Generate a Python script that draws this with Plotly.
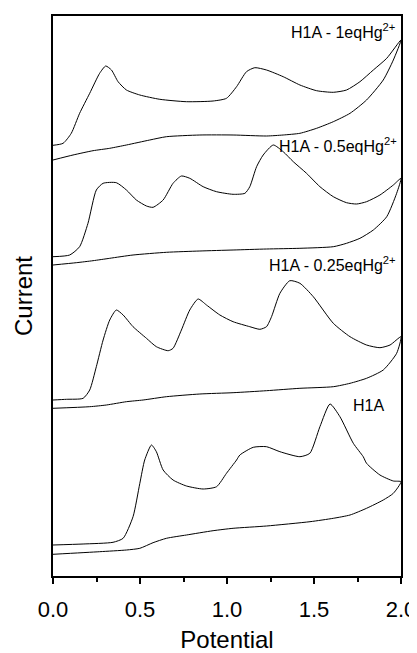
import plotly.graph_objects as go

# ---- data (Potential / V, Current / arb. units) ----
# H1A - 1eqHg2+  (forward scan then reverse scan)
p_1eq = [0.0, 0.058, 0.105, 0.153, 0.211, 0.268, 0.303, 0.336, 0.374, 0.422, 0.499, 0.614, 0.767, 0.920,
         0.997, 1.055, 1.112, 1.160, 1.227, 1.323, 1.419, 1.515, 1.611, 1.687, 1.764, 1.841, 1.918, 2.0,
         1.956, 1.898, 1.802, 1.707, 1.611, 1.515, 1.419, 1.323, 1.227, 1.035, 0.844, 0.652, 0.556, 0.422,
         0.326, 0.230, 0.115, 0.0]
c_1eq = [430.7, 432.7, 442.7, 462.7, 482.7, 502.7, 510.0, 506.0, 494.3, 486.0, 481.0, 476.7, 474.3, 475.0,
         477.7, 489.3, 504.3, 508.3, 506.0, 499.3, 491.0, 485.3, 483.7, 486.0, 494.3, 506.0, 517.7, 536.0,
         516.0, 496.0, 476.0, 462.7, 454.3, 447.7, 442.7, 441.0, 440.0, 441.0, 441.0, 439.3, 436.0, 431.0,
         427.7, 425.3, 421.0, 416.0]

# H1A - 0.5eqHg2+
p_05eq = [0.0, 0.096, 0.153, 0.201, 0.249, 0.288, 0.364, 0.422, 0.479, 0.537, 0.575, 0.633, 0.690, 0.738,
          0.786, 0.863, 0.940, 1.035, 1.103, 1.131, 1.170, 1.208, 1.266, 1.323, 1.381, 1.457, 1.534, 1.611,
          1.687, 1.745, 1.802, 1.879, 1.956, 2.0,
          1.975, 1.918, 1.841, 1.764, 1.687, 1.611, 1.419, 1.227, 1.035, 0.844, 0.652, 0.460, 0.326, 0.230,
          0.134, 0.0]
c_05eq = [319.3, 321.0, 329.3, 352.7, 386.0, 392.7, 393.3, 386.0, 376.0, 370.0, 368.7, 376.0, 392.7, 400.0,
          397.7, 389.3, 384.3, 381.7, 382.7, 389.3, 409.3, 421.0, 431.0, 424.3, 414.3, 402.7, 389.3, 379.3,
          373.3, 372.0, 374.3, 381.0, 391.0, 397.7,
          382.7, 359.3, 346.0, 337.7, 332.7, 329.3, 327.7, 327.0, 326.0, 325.0, 323.7, 321.0, 317.7, 315.3,
          313.3, 311.0]

# H1A - 0.25eqHg2+
p_025eq = [0.0, 0.077, 0.173, 0.211, 0.249, 0.288, 0.326, 0.364, 0.403, 0.460, 0.537, 0.594, 0.662, 0.690,
           0.738, 0.786, 0.834, 0.882, 0.959, 1.035, 1.131, 1.189, 1.227, 1.256, 1.304, 1.361, 1.419, 1.496,
           1.611, 1.707, 1.802, 1.879, 1.937, 2.0,
           1.975, 1.898, 1.802, 1.707, 1.611, 1.419, 1.227, 1.035, 0.844, 0.652, 0.518, 0.422, 0.307, 0.211,
           0.0]
c_025eq = [176.0, 176.7, 177.7, 186.0, 209.3, 236.0, 256.0, 266.0, 261.0, 249.3, 237.7, 229.3, 225.3, 227.7,
           246.0, 266.0, 277.0, 271.0, 261.0, 254.3, 249.3, 246.7, 249.3, 259.3, 282.7, 295.3, 292.7, 279.3,
           252.7, 239.3, 231.0, 228.3, 231.0, 239.3,
           222.7, 206.0, 197.7, 192.7, 189.3, 187.7, 185.3, 183.3, 182.0, 179.3, 176.0, 174.3, 171.0, 169.3,
           167.7]

# H1A
p_h1a = [0.0, 0.173, 0.345, 0.403, 0.460, 0.499, 0.527, 0.566, 0.594, 0.633, 0.690, 0.767, 0.863, 0.940,
         0.997, 1.055, 1.074, 1.151, 1.227, 1.304, 1.419, 1.476, 1.534, 1.592, 1.649, 1.726, 1.783, 1.802,
         1.879, 1.956, 2.0,
         1.956, 1.898, 1.802, 1.707, 1.611, 1.477, 1.227, 1.035, 0.920, 0.767, 0.652, 0.575, 0.499, 0.422,
         0.268, 0.0]
c_h1a = [31.0, 32.0, 33.7, 37.7, 59.3, 92.7, 116.0, 131.0, 124.3, 106.0, 96.0, 90.0, 87.0, 89.3,
         102.7, 116.0, 121.0, 128.7, 129.3, 124.3, 119.3, 122.7, 149.3, 172.0, 159.3, 132.7, 119.3, 112.7,
         101.0, 95.0, 94.3,
         82.7, 76.0, 67.7, 61.0, 57.7, 54.3, 50.0, 47.7, 45.3, 41.0, 37.7, 33.3, 27.7, 26.0,
         24.3, 21.7]

labels = ["H1A - 1eqHg<sup>2+</sup>", "H1A - 0.5eqHg<sup>2+</sup>",
          "H1A - 0.25eqHg<sup>2+</sup>", "H1A"]
label_x = [1.975, 1.99, 1.98, 1.915]
label_y = [545, 431, 312, 171]

x_ticks = [0.0, 0.5, 1.0, 1.5, 2.0]
x_ticktext = ["0.0", "0.5", "1.0", "1.5", "2.0"]

FONT = "Liberation Sans, Arial, sans-serif"

fig = go.Figure()
for px, cy in [(p_1eq, c_1eq), (p_05eq, c_05eq), (p_025eq, c_025eq), (p_h1a, c_h1a)]:
    fig.add_trace(go.Scatter(x=px, y=cy, mode="lines",
                             line=dict(color="black", width=1, shape="spline", smoothing=0.6),
                             showlegend=False, hoverinfo="skip"))

for t, xx, yy in zip(labels, label_x, label_y):
    fig.add_annotation(x=xx, y=yy, xref="x", yref="y", text=t, showarrow=False,
                       xanchor="right", yanchor="middle",
                       font=dict(family=FONT, size=16, color="black"))

fig.update_layout(
    width=409, height=645,
    margin=dict(l=45, r=16, t=8, b=77, autoexpand=False),
    paper_bgcolor="white", plot_bgcolor="white",
    font=dict(family=FONT, color="black"),
    xaxis=dict(range=[0, 2], tickvals=x_ticks, ticktext=x_ticktext, automargin=False,
               ticks="outside", ticklen=6, tickwidth=1.5, tickcolor="black", ticklabelstandoff=7,
               minor=dict(dtick=0.25, tick0=0, ticks="outside", ticklen=4, tickwidth=1.5, tickcolor="black"),
               showline=True, linecolor="black", linewidth=1.5, mirror=True,
               showgrid=False, zeroline=False,
               tickfont=dict(family=FONT, size=22, color="black"),
               title=dict(text="Potential", font=dict(family=FONT, size=24, color="black"), standoff=14)),
    yaxis=dict(range=[0, 560], showticklabels=False, ticks="", automargin=False,
               showline=True, linecolor="black", linewidth=1.5, mirror=True,
               showgrid=False, zeroline=False,
               title=dict(text="Current", font=dict(family=FONT, size=24, color="black"), standoff=12)),
)

fig.write_html("out.html")
